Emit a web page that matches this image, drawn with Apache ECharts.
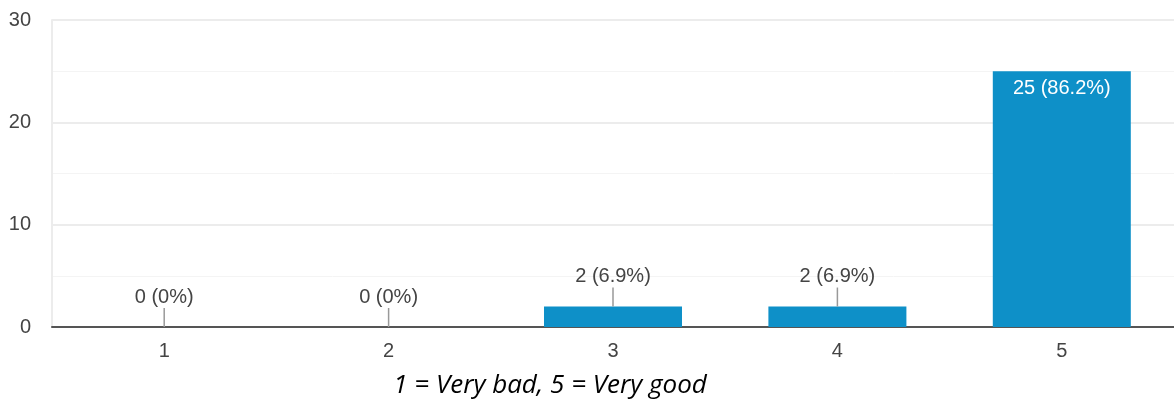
<!DOCTYPE html>
<html>
<head>
<meta charset="utf-8">
<style>
  html, body { margin: 0; padding: 0; background: #fff; }
  #chart { width: 1174px; height: 405px; }
</style>
<script src="https://cdn.jsdelivr.net/npm/echarts@6/dist/echarts.min.js"></script>
</head>
<body>
<div id="chart"></div>
<script>
// Rating scale and response counts
const categories = ['1', '2', '3', '4', '5'];
const counts = [0, 0, 2, 2, 25];
const yTicks = [0, 10, 20, 30];
const scaleNote = '1 = Very bad, 5 = Very good';

const total = counts.reduce((a, b) => a + b, 0);
function pctText(v) {
  const p = Math.round(v / total * 1000) / 10;
  return v + ' (' + p + '%)';
}

const FONT = '"Liberation Sans", Arial, sans-serif';
const FS = 20;
const TEXT = '#444';
const BAR = '#0e90c8';

const chart = echarts.init(document.getElementById('chart'), null, { renderer: 'canvas' });

chart.setOption({
  animation: false,
  grid: { left: 52, right: 0, top: 20, bottom: 78 },
  xAxis: {
    type: 'category',
    data: categories,
    axisLine: { show: true, lineStyle: { color: '#555', width: 2 } },
    axisTick: { show: false },
    axisLabel: { color: TEXT, fontSize: FS, fontFamily: FONT, margin: 14 }
  },
  yAxis: {
    type: 'value',
    min: yTicks[0],
    max: yTicks[yTicks.length - 1],
    interval: 10,
    axisLine: { show: true, lineStyle: { color: '#ececec', width: 2 } },
    axisTick: { show: false },
    axisLabel: { color: TEXT, fontSize: FS, fontFamily: FONT, margin: 21 },
    splitLine: { lineStyle: { color: '#ececec', width: 2 } },
    minorTick: { show: false, splitNumber: 2 },
    minorSplitLine: { show: true, lineStyle: { color: '#f4f4f4', width: 1 } }
  },
  graphic: [{
    type: 'text',
    x: 550,
    y: 386,
    style: {
      text: scaleNote,
      align: 'center',
      verticalAlign: 'middle',
      fill: '#000',
      font: 'italic 26px "Open Sans", sans-serif'
    }
  }],
  series: [
    {
      type: 'bar',
      data: counts,
      barWidth: '61.5%',
      itemStyle: { color: BAR },
      z: 2
    },
    {
      // value labels: inside the bar when tall, otherwise above with a leader line
      type: 'custom',
      silent: true,
      z: 5,
      data: counts.map((v, i) => [i, v]),
      encode: { x: 0, y: 1 },
      renderItem: function (params, api) {
        const c = api.value(0);
        const v = api.value(1);
        const p = api.coord([c, v]);
        const label = pctText(v);
        if (v >= 5) {
          return {
            type: 'text',
            style: {
              text: label, x: p[0], y: p[1] + 17,
              align: 'center', verticalAlign: 'middle',
              fill: '#fff', font: FS + 'px ' + FONT
            }
          };
        }
        const top = p[1] - 19;
        return {
          type: 'group',
          children: [
            {
              type: 'line',
              shape: { x1: p[0], y1: p[1], x2: p[0], y2: top },
              style: { stroke: '#999', lineWidth: 1.5 }
            },
            {
              type: 'text',
              style: {
                text: label, x: p[0], y: top - 1,
                align: 'center', verticalAlign: 'bottom',
                fill: TEXT, font: FS + 'px ' + FONT
              }
            }
          ]
        };
      }
    }
  ]
});
</script>
</body>
</html>
